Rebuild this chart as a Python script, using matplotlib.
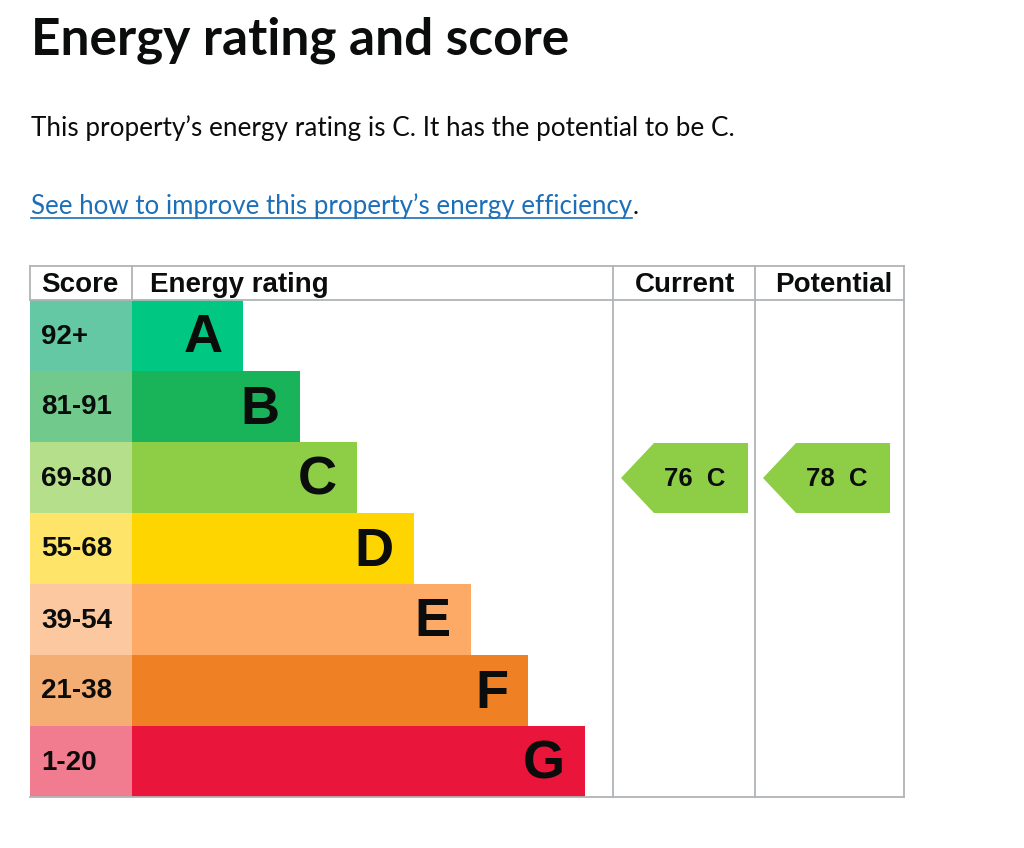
import matplotlib
matplotlib.use("Agg")
import matplotlib.pyplot as plt
from matplotlib.patches import Polygon

# ---- data ----
bands = ["A", "B", "C", "D", "E", "F", "G"]
score_ranges = ["92+", "81-91", "69-80", "55-68", "39-54", "21-38", "1-20"]
bar_colors = ["#00c781", "#19b459", "#8dce46", "#ffd500", "#fcaa65", "#ef8023", "#e9153b"]
score_colors = ["#64c8a4", "#72c98c", "#b6df8c", "#ffe46a", "#fcc89f", "#f4ad72", "#f17b8f"]
current_score = 76
current_band = "C"
potential_score = 78
potential_band = "C"
headers = ["Score", "Energy rating", "Current", "Potential"]
title = "Energy rating and score"
summary = "This property\u2019s energy rating is C. It has the potential to be C."
link_text = "See how to improve this property\u2019s energy efficiency"

# ---- layout (pixels) ----
W, H = 1024, 848
fig = plt.figure(figsize=(W / 100, H / 100), dpi=100)
ax = fig.add_axes([0, 0, 1, 1])
ax.set_xlim(0, W)
ax.set_ylim(H, 0)
ax.axis("off")

FONT = ["Liberation Sans", "DejaVu Sans"]
TFONT = ["Lato", "DejaVu Sans"]
grey = "#b1b4b6"
ink = "#0b0c0c"

left, score_right = 30, 132
cur_left, pot_left, right = 613, 755, 904
top, head_bot = 266, 300
row_h = 71
bar0, bar_step = 111, 57

# page text
ax.text(31, 40, title, fontsize=37, fontweight="bold", family=TFONT, va="center", ha="left", color=ink)
ax.text(31, 128, summary, fontsize=18.8, family=TFONT, va="center", ha="left", color=ink)
lt = ax.text(31, 206, link_text, fontsize=18.6, family=TFONT, va="center", ha="left", color="#1d70b8")
fig.canvas.draw()
bb = lt.get_window_extent().transformed(ax.transData.inverted())
ax.plot([bb.x0, bb.x1], [218, 218], color="#1d70b8", lw=1.2)
ax.text(bb.x1, 206, ".", fontsize=18.6, family=TFONT, va="center", ha="left", color=ink)

n = len(bands)
bottom = head_bot + n * row_h

# rows
centers = [head_bot + row_h * (i + 0.5) for i in range(n)]
ax.barh(centers, [score_right - left] * n, left=left, height=row_h, color=score_colors, edgecolor="none")
ax.barh(centers, [bar0 + bar_step * i for i in range(n)], left=score_right, height=row_h,
        color=bar_colors, edgecolor="none")
for i, (b, s, c) in enumerate(zip(bands, score_ranges, centers)):
    ax.text(41, c + 1, s, fontsize=20, fontweight="bold", family=FONT, va="center", ha="left", color=ink)
    ax.text(score_right + bar0 + bar_step * i - 20, c + 3, b, fontsize=39, fontweight="bold",
            family=FONT, va="center", ha="right", color=ink)

# grid lines
lw = 1.3
ax.plot([left, right], [top, top], color=grey, lw=lw)
ax.plot([left, right], [head_bot, head_bot], color=grey, lw=lw)
ax.plot([left, right], [bottom, bottom], color=grey, lw=lw)
ax.plot([left, left], [top, head_bot], color=grey, lw=lw)
ax.plot([score_right, score_right], [top, head_bot], color=grey, lw=lw)
for x in (cur_left, pot_left, right):
    ax.plot([x, x], [top, bottom], color=grey, lw=lw)

# column headers
hy = (top + head_bot) / 2 + 2.5
hs = 20
ax.text(41, hy, headers[0], fontsize=hs, fontweight="bold", family=FONT, va="center", ha="left", color=ink)
ax.text(150, hy, headers[1], fontsize=hs, fontweight="bold", family=FONT, va="center", ha="left", color=ink)
ax.text((cur_left + pot_left) / 2 + 1, hy, headers[2], fontsize=hs, fontweight="bold", family=FONT, va="center", ha="center", color=ink)
ax.text((pot_left + right) / 2 + 4, hy, headers[3], fontsize=hs, fontweight="bold", family=FONT, va="center", ha="center", color=ink)

# arrows
def arrow(col_left, score, band):
    i = bands.index(band)
    y0 = head_bot + row_h * i + 1
    y1 = y0 + row_h - 1
    ym = (y0 + y1) / 2
    tip = col_left + 8
    body = tip + 33
    end = col_left + 135
    poly = Polygon([(tip, ym), (body, y0), (end, y0), (end, y1), (body, y1)], closed=True,
                   facecolor=bar_colors[i], edgecolor="none")
    ax.add_patch(poly)
    ax.text((tip + end) / 2 + 10, ym + 1, f"{score}  {band}", fontsize=18.5, fontweight="bold", family=FONT,
            va="center", ha="center", color=ink)

arrow(cur_left, current_score, current_band)
arrow(pot_left, potential_score, potential_band)

fig.savefig("out.png", dpi=100, facecolor="white")
